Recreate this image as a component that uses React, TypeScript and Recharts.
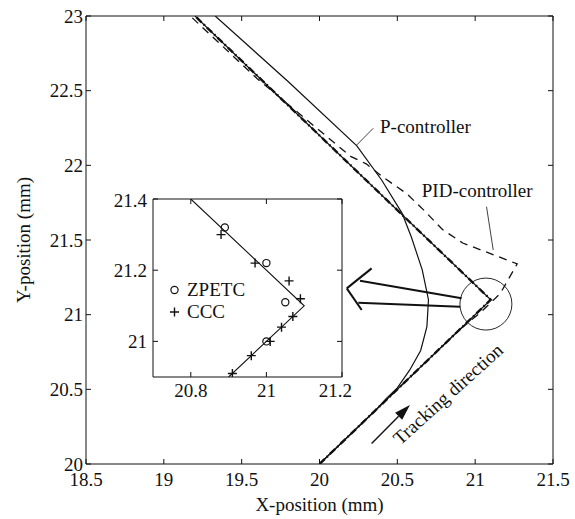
import {
  ComposedChart,
  Line,
  Scatter,
  XAxis,
  YAxis,
  ReferenceLine,
  ReferenceDot,
  Legend,
} from "recharts";

const FONT = "'Liberation Serif', 'Times New Roman', Tinos, 'DejaVu Serif', serif";
const INK = "#111";

// main plot
const xTicks = [18.5, 19, 19.5, 20, 20.5, 21, 21.5];
const yTicks = [20, 20.5, 21, 21.5, 22, 22.5, 23];

const refX = [20, 21.1, 19.2];
const refY = [20, 21.1, 23];

const pCtrlX = [20, 20.37, 20.43, 20.5, 20.58, 20.65, 20.69, 20.7, 20.66, 20.59, 20.53, 20.4, 20.24, 19.8, 19.33];
const pCtrlY = [20, 20.37, 20.44, 20.51, 20.63, 20.76, 20.92, 21.1, 21.3, 21.52, 21.68, 21.9, 22.13, 22.56, 23];

const pidX = [20, 20.9, 21.03, 21.16, 21.27, 21.12, 20.92, 20.79, 20.67, 20.56, 20.41, 20.3, 20.2, 19.6, 19.17];
const pidY = [20, 20.9, 21.01, 21.14, 21.34, 21.4, 21.48, 21.57, 21.7, 21.81, 21.92, 22.01, 22.06, 22.58, 23];

// inset
const insetXTicks = [20.8, 21, 21.2];
const insetYTicks = [21, 21.2, 21.4];
const insetRefX = [20.8, 21.1, 20.9];
const insetRefY = [21.4, 21.1, 20.9];
const zpetcX = [20.89, 21.0, 21.05, 21.0];
const zpetcY = [21.32, 21.22, 21.11, 21.0];
const cccX = [20.88, 20.97, 21.06, 21.09, 21.07, 21.04, 21.01, 20.96, 20.91];
const cccY = [21.3, 21.22, 21.17, 21.12, 21.07, 21.04, 21.0, 20.96, 20.91];

const pts = (xs: number[], ys: number[]) => xs.map((x, i) => ({ x, y: ys[i] }));

const refData = pts(refX, refY);
const pData = pts(pCtrlX, pCtrlY);
const pidData = pts(pidX, pidY);
const insetRef = pts(insetRefX, insetRefY);
const zpetcData = pts(zpetcX, zpetcY);
const cccData = pts(cccX, cccY);

const fontCss = { fontFamily: FONT };
const tickStyle = { fill: INK, fontSize: 19, fontFamily: FONT, style: fontCss };
const blank = () => "";

const XLabel = ({ viewBox }: any) => (
  <text
    x={viewBox.x + viewBox.width / 2}
    y={viewBox.y + 47}
    textAnchor="middle"
    fill={INK}
    fontSize={19}
    style={fontCss}
  >
    X-position (mm)
  </text>
);

const YLabel = ({ viewBox }: any) => {
  const cx = viewBox.x + 23;
  const cy = viewBox.y + viewBox.height / 2;
  return (
    <text
      x={cx}
      y={cy}
      transform={`rotate(-90 ${cx} ${cy})`}
      textAnchor="middle"
      dominantBaseline="central"
      fill={INK}
      fontSize={19}
      style={fontCss}
    >
      Y-position (mm)
    </text>
  );
};

const textShape = (value: string, anchor: string, angle = 0) => (p: any) => (
  <text
    x={p.cx}
    y={p.cy}
    textAnchor={anchor}
    dominantBaseline={angle ? "central" : "auto"}
    transform={angle ? `rotate(${angle} ${p.cx} ${p.cy})` : undefined}
    fill={INK}
    fontSize={19}
    style={fontCss}
  >
    {value}
  </text>
);

const arrowShape = (p: any) => {
  const { x1, y1, x2, y2 } = p;
  const len = Math.hypot(x2 - x1, y2 - y1);
  const ux = (x2 - x1) / len;
  const uy = (y2 - y1) / len;
  const bx = x2 - ux * 16;
  const by = y2 - uy * 16;
  const head = `${x2},${y2} ${bx - uy * 5},${by + ux * 5} ${bx + uy * 5},${by - ux * 5}`;
  return (
    <g>
      <line x1={x1} y1={y1} x2={bx} y2={by} stroke={INK} strokeWidth={1.4} />
      <polygon points={head} fill={INK} />
    </g>
  );
};

const Circle = (p: any) => (
  <circle cx={p.cx} cy={p.cy} r={3.6} fill="none" stroke={INK} strokeWidth={1.2} />
);
const Plus = (p: any) => (
  <path
    d={`M${p.cx - 4.5},${p.cy}h9M${p.cx},${p.cy - 4.5}v9`}
    stroke={INK}
    strokeWidth={1.4}
    fill="none"
  />
);

const InsetLegend = () => (
  <div style={{ fontFamily: FONT, fontSize: 19, color: INK, lineHeight: "22px" }}>
    {[
      ["ZPETC", Circle],
      ["CCC", Plus],
    ].map(([name, M]: any) => (
      <div key={name} style={{ display: "flex", alignItems: "center", height: 22 }}>
        <svg width={13} height={22} style={{ marginRight: 6 }}>
          <M cx={6.5} cy={11} />
        </svg>
        <span>{name}</span>
      </div>
    ))}
  </div>
);

const segs: [number, number, number, number, number][] = [
  // open arrow pointing to the inset
  [20.335, 21.31, 20.175, 21.176, 2],
  [20.175, 21.176, 20.271, 21.031, 2],
  [20.26, 21.227, 20.913, 21.11, 2],
  [20.249, 21.08, 20.903, 21.053, 2],
  // leaders
  [20.239, 22.136, 20.345, 22.248, 0.8],
  [21.116, 21.433, 21.073, 21.723, 0.8],
];

export default function App() {
  return (
    <div style={{ position: "absolute", left: 0, top: 0, width: 575, height: 519, background: "#fff", fontFamily: FONT }}>
      <ComposedChart width={575} height={519} margin={{ top: 15, right: 21, bottom: 0, left: 0 }}>
        <XAxis
          xAxisId="b"
          dataKey="x"
          type="number"
          domain={[18.5, 21.5]}
          ticks={xTicks}
          allowDataOverflow
          height={55}
          tickSize={-5}
          tickMargin={14}
          stroke={INK}
          tick={tickStyle}
          label={<XLabel />}
        />
        <XAxis
          xAxisId="t"
          orientation="top"
          dataKey="x"
          type="number"
          domain={[18.5, 21.5]}
          ticks={xTicks}
          allowDataOverflow
          height={1}
          tickSize={-5}
          tickFormatter={blank}
          stroke={INK}
        />
        <YAxis
          yAxisId="l"
          dataKey="y"
          type="number"
          domain={[20, 23]}
          ticks={yTicks}
          allowDataOverflow
          width={86}
          tickSize={-5}
          tickMargin={8}
          stroke={INK}
          tick={tickStyle}
          label={<YLabel />}
        />
        <YAxis
          yAxisId="r"
          orientation="right"
          dataKey="y"
          type="number"
          domain={[20, 23]}
          ticks={yTicks}
          allowDataOverflow
          width={1}
          tickSize={-5}
          tickFormatter={blank}
          stroke={INK}
        />

        <Line xAxisId="b" yAxisId="l" data={refData} dataKey="y" stroke={INK} strokeWidth={1.2} dot={false} activeDot={false} isAnimationActive={false} />
        <Line xAxisId="b" yAxisId="l" data={refData} dataKey="y" stroke={INK} strokeWidth={2.4} strokeDasharray="7 3 1.5 3" dot={false} activeDot={false} isAnimationActive={false} />
        <Line xAxisId="b" yAxisId="l" data={pData} dataKey="y" stroke={INK} strokeWidth={1.2} dot={false} activeDot={false} isAnimationActive={false} />
        <Line xAxisId="b" yAxisId="l" data={pidData} dataKey="y" stroke={INK} strokeWidth={1.3} strokeDasharray="8 6" dot={false} activeDot={false} isAnimationActive={false} />

        <ReferenceDot xAxisId="b" yAxisId="l" x={21.069} y={21.071} r={26} fill="none" stroke={INK} strokeWidth={0.9} />
        {segs.map(([ax, ay, bx, by, w], i) => (
          <ReferenceLine
            key={i}
            xAxisId="b"
            yAxisId="l"
            segment={[{ x: ax, y: ay }, { x: bx, y: by }]}
            stroke={INK}
            strokeWidth={w}
          />
        ))}
        <ReferenceLine
          xAxisId="b"
          yAxisId="l"
          segment={[{ x: 20.335, y: 20.138 }, { x: 20.581, y: 20.395 }]}
          shape={arrowShape}
        />
        <ReferenceDot xAxisId="b" yAxisId="l" x={20.389} y={22.216} shape={textShape("P-controller", "start")} />
        <ReferenceDot xAxisId="b" yAxisId="l" x={20.657} y={21.788} shape={textShape("PID-controller", "start")} />
        <ReferenceDot xAxisId="b" yAxisId="l" x={20.825} y={20.469} shape={textShape("Tracking direction", "middle", -42)} />
      </ComposedChart>

      <div style={{ position: "absolute", left: 100, top: 189 }}>
        <ComposedChart width={252} height={215} margin={{ top: 9, right: 9, bottom: 0, left: 0 }}>
          <XAxis
            xAxisId="b"
            dataKey="x"
            type="number"
            domain={[20.7, 21.2]}
            ticks={insetXTicks}
            allowDataOverflow
            height={27}
            tickSize={-5}
            tickMargin={12}
            stroke={INK}
            tick={tickStyle}
          />
          <XAxis
            xAxisId="t"
            orientation="top"
            dataKey="x"
            type="number"
            domain={[20.7, 21.2]}
            ticks={insetXTicks}
            allowDataOverflow
            height={1}
            tickSize={-5}
            tickFormatter={blank}
            stroke={INK}
          />
          <YAxis
            yAxisId="l"
            dataKey="y"
            type="number"
            domain={[20.9, 21.4]}
            ticks={insetYTicks}
            allowDataOverflow
            width={53}
            tickSize={-5}
            tickMargin={11}
            stroke={INK}
            tick={tickStyle}
          />
          <YAxis
            yAxisId="r"
            orientation="right"
            dataKey="y"
            type="number"
            domain={[20.9, 21.4]}
            ticks={insetYTicks}
            allowDataOverflow
            width={1}
            tickSize={-5}
            tickFormatter={blank}
            stroke={INK}
          />
          <Line xAxisId="b" yAxisId="l" data={insetRef} dataKey="y" stroke={INK} strokeWidth={1.1} dot={false} activeDot={false} isAnimationActive={false} />
          <Scatter xAxisId="b" yAxisId="l" name="ZPETC" data={zpetcData} shape={Circle} isAnimationActive={false} />
          <Scatter xAxisId="b" yAxisId="l" name="CCC" data={cccData} shape={Plus} isAnimationActive={false} />
          <Legend
            layout="vertical"
            align="center"
            verticalAlign="middle"
            content={<InsetLegend />}
            wrapperStyle={{ left: 68, top: 90, width: "auto", textAlign: "left" }}
          />
        </ComposedChart>
      </div>
    </div>
  );
}
